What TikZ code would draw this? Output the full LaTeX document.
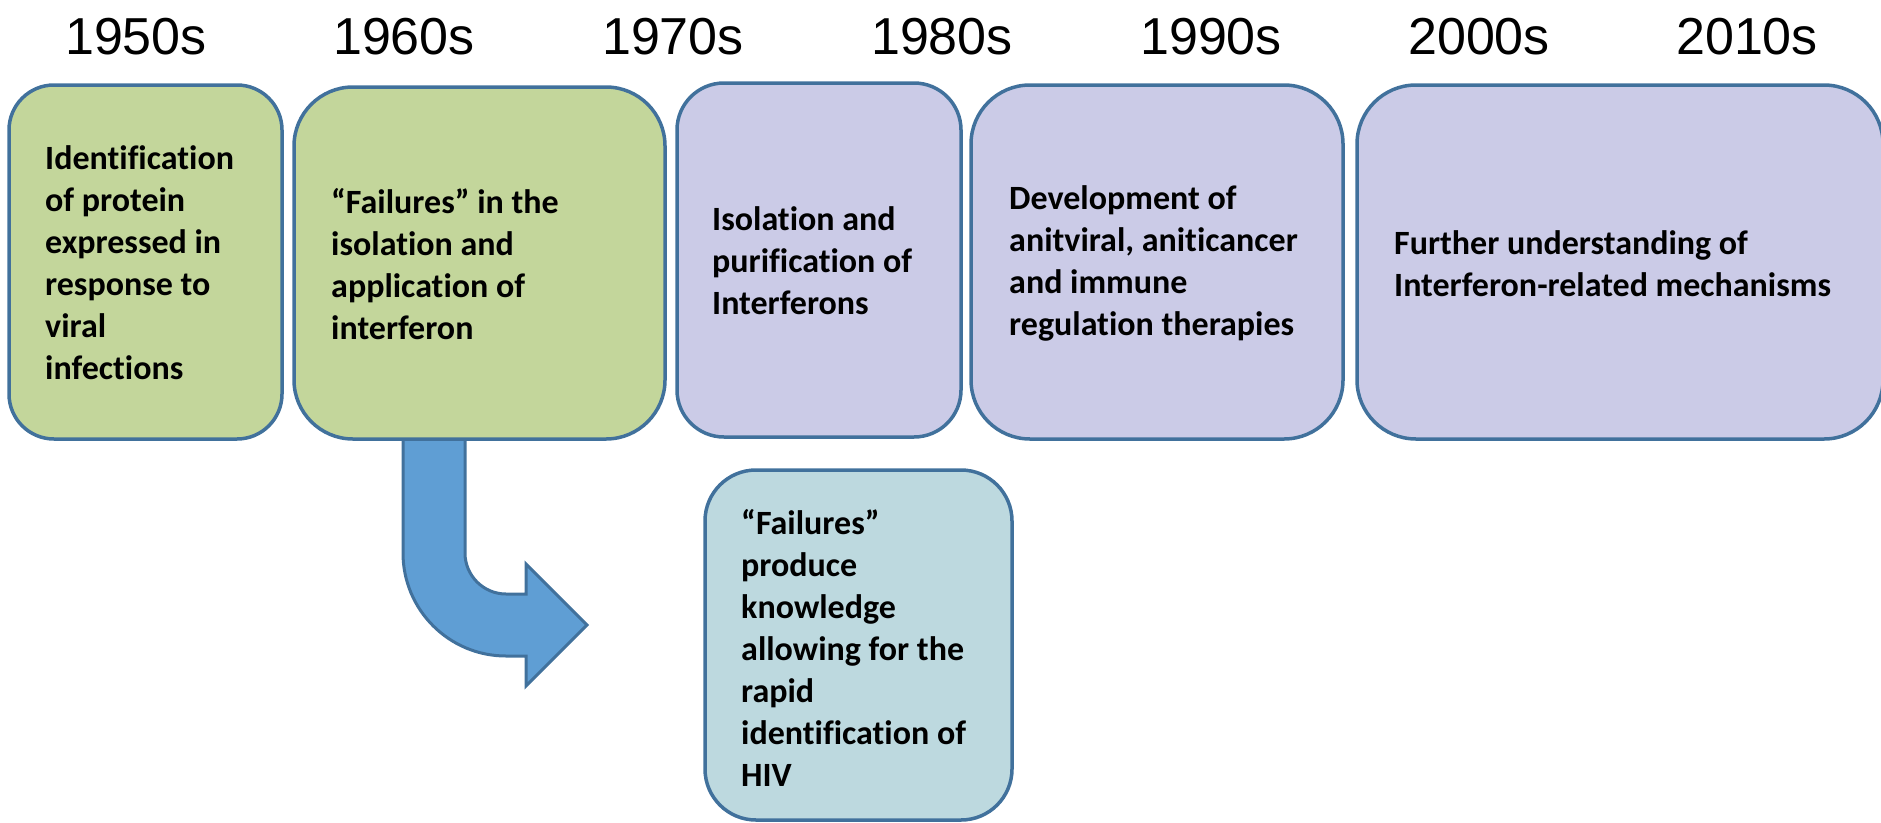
\documentclass[tikz,border=0pt]{standalone}
\usepackage{fontspec}
\setmainfont{Carlito}[Ligatures=NoCommon]
\newfontfamily\yearfont{Liberation Sans}
\definecolor{edgeblue}{RGB}{65,113,156}
\definecolor{boxgreen}{RGB}{195,214,155}
\definecolor{boxlav}{RGB}{203,203,231}
\definecolor{boxteal}{RGB}{189,217,223}
\definecolor{arrowblue}{RGB}{95,158,212}
\tikzset{
  box/.style={draw=edgeblue, line width=3.5pt, rectangle, inner sep=0pt},
  boxtext/.style={anchor=west, align=left, inner sep=0pt, font=\fontsize{34pt}{42pt}\selectfont\bfseries},
  year/.style={anchor=base, inner sep=0pt, font=\fontsize{52pt}{60pt}\selectfont\yearfont},
}
\begin{document}
\begin{tikzpicture}[x=1pt,y=-1pt]
\useasboundingbox (0,0) rectangle (1881,822);
% year labels
\node[year] (y1950) at (136,54) {1950s};
\node[year] (y1960) at (404,54) {1960s};
\node[year] (y1970) at (673,54) {1970s};
\node[year] (y1980) at (942,54) {1980s};
\node[year] (y1990) at (1211,54) {1990s};
\node[year] (y2000) at (1479,54) {2000s};
\node[year] (y2010) at (1747,54) {2010s};
% bent arrow
\coordinate (arrowstart) at (403,430);
\draw[fill=arrowblue, draw=edgeblue, line width=3pt, line join=miter]
  (arrowstart) -- (465,430) -- (465,553)
  .. controls (465,575.6) and (483.4,594) .. (506,594)
  -- (526,594) -- (526,564) -- (587,625) -- (526,686) -- (526,656) -- (506,656)
  .. controls (449.1,656) and (403,609.9) .. (403,553) -- cycle;
% boxes
\node[box, fill=boxgreen, rounded corners=45pt, minimum width=273pt, minimum height=354pt] (b1) at (145.5,262) {};
\node[box, fill=boxgreen, rounded corners=59pt, minimum width=371pt, minimum height=352pt] (b2) at (479.5,263) {};
\node[box, fill=boxlav, rounded corners=47pt, minimum width=284pt, minimum height=354pt] (b3) at (819,260) {};
\node[box, fill=boxlav, rounded corners=59pt, minimum width=372pt, minimum height=354pt] (b4) at (1157,262) {};
\node[box, fill=boxlav, rounded corners=59pt, minimum width=526pt, minimum height=354pt] (b5) at (1620,262) {};
\node[box, fill=boxteal, rounded corners=51pt, minimum width=307pt, minimum height=350pt] (b6) at (858.5,645) {};
% texts
\node[boxtext] (t1) at (45,263) {Identification\\of protein\\expressed in\\response to\\viral\\infections};
\node[boxtext] (t2) at (331,264) {“Failures” in the\\isolation and\\application of\\interferon};
\node[boxtext] (t3) at (712,261) {Isolation and\\purification of\\Interferons};
\node[boxtext] (t4) at (1009,263) {Development of\\anitviral, aniticancer\\and immune\\regulation therapies};
\node[boxtext] (t5) at (1394,264) {Further understanding of\\Interferon-related mechanisms};
\node[boxtext] (t6) at (741,648) {“Failures”\\produce\\knowledge\\allowing for the\\rapid\\identification of\\HIV};
\end{tikzpicture}
\end{document}
